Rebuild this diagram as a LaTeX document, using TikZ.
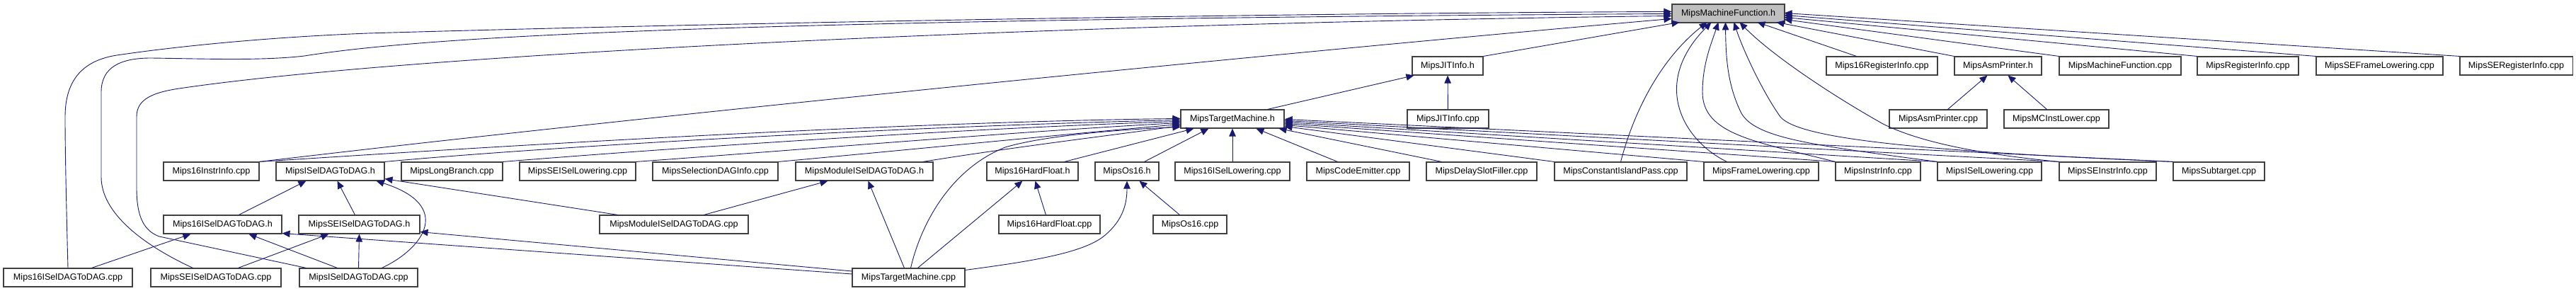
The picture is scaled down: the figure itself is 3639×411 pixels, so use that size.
\documentclass[tikz,border=0pt]{standalone}
\usepackage{fontspec}
\setmainfont{Liberation Sans}
\usetikzlibrary{arrows.meta,calc}
\definecolor{edgeblue}{HTML}{191970}
\definecolor{boxline}{HTML}{404040}
\definecolor{focusfill}{HTML}{BFBFBF}
\tikzset{
  box/.style={draw=boxline, line width=1.1pt, fill=white, minimum height=26pt, inner sep=0pt,
    font=\fontsize{12.6}{14}\selectfont},
  focus/.style={box, fill=focusfill},
  dep/.style={draw=edgeblue, line width=0.9pt, -{Triangle[length=11pt,width=9.5pt]}, fill=none}
}
\begin{document}
\begin{tikzpicture}[x=1pt,y=-1pt]
\useasboundingbox[fill=white] (0,0) rectangle (3639,411);
% row 0
\node[focus, minimum width=159pt] (mmf) at (2441.5,19) {MipsMachineFunction.h};
% row 1
\node[box, minimum width=100pt] (mjith) at (2045,93) {MipsJITInfo.h};
\node[box, minimum width=157pt] (m16ri) at (2658.5,93) {Mips16RegisterInfo.cpp};
\node[box, minimum width=123pt] (masmh) at (2822.5,93) {MipsAsmPrinter.h};
\node[box, minimum width=172pt] (mmfcpp) at (2995,93) {MipsMachineFunction.cpp};
\node[box, minimum width=143pt] (mri) at (3175.5,93) {MipsRegisterInfo.cpp};
\node[box, minimum width=179pt] (msefl) at (3361.5,93) {MipsSEFrameLowering.cpp};
\node[box, minimum width=159pt] (mseri) at (3554.5,93) {MipsSERegisterInfo.cpp};
% row 2
\node[box, minimum width=146pt] (mtmh) at (1741,168) {MipsTargetMachine.h};
\node[box, minimum width=115pt] (mjitcpp) at (2045.5,168) {MipsJITInfo.cpp};
\node[box, minimum width=138pt] (masmcpp) at (2738,168) {MipsAsmPrinter.cpp};
\node[box, minimum width=148pt] (mmcil) at (2905,168) {MipsMCInstLower.cpp};
% row 3
\node[box, minimum width=135pt] (m16ii) at (298.5,242) {Mips16InstrInfo.cpp};
\node[box, minimum width=153pt] (misdh) at (466.5,242) {MipsISelDAGToDAG.h};
\node[box, minimum width=143pt] (mlb) at (638.5,242) {MipsLongBranch.cpp};
\node[box, minimum width=164pt] (mseisl) at (816,242) {MipsSEISelLowering.cpp};
\node[box, minimum width=177pt] (msdi) at (1010.5,242) {MipsSelectionDAGInfo.cpp};
\node[box, minimum width=194pt] (mmodh) at (1221,242) {MipsModuleISelDAGToDAG.h};
\node[box, minimum width=129pt] (m16hfh) at (1458.5,242) {Mips16HardFloat.h};
\node[box, minimum width=90pt] (mos16h) at (1592,242) {MipsOs16.h};
\node[box, minimum width=162pt] (m16isl) at (1741,242) {Mips16ISelLowering.cpp};
\node[box, minimum width=145pt] (mce) at (1918.5,242) {MipsCodeEmitter.cpp};
\node[box, minimum width=156pt] (mdsf) at (2093,242) {MipsDelaySlotFiller.cpp};
\node[box, minimum width=187pt] (mcip) at (2289.5,242) {MipsConstantIslandPass.cpp};
\node[box, minimum width=162pt] (mfl) at (2488,242) {MipsFrameLowering.cpp};
\node[box, minimum width=120pt] (mii) at (2653,242) {MipsInstrInfo.cpp};
\node[box, minimum width=147pt] (misl) at (2810.5,242) {MipsISelLowering.cpp};
\node[box, minimum width=137pt] (msei) at (2977.5,242) {MipsSEInstrInfo.cpp};
\node[box, minimum width=129pt] (msub) at (3134.5,242) {MipsSubtarget.cpp};
% row 4
\node[box, minimum width=167pt] (m16isdh) at (314.5,317) {Mips16ISelDAGToDAG.h};
\node[box, minimum width=171pt] (msesdh) at (507.5,317) {MipsSEISelDAGToDAG.h};
\node[box, minimum width=210pt] (mmodcpp) at (952,317) {MipsModuleISelDAGToDAG.cpp};
\node[box, minimum width=143pt] (m16hfcpp) at (1482.5,317) {Mips16HardFloat.cpp};
\node[box, minimum width=104pt] (mos16cpp) at (1681,317) {MipsOs16.cpp};
% row 5
\node[box, minimum width=182pt] (m16isdcpp) at (96,392) {Mips16ISelDAGToDAG.cpp};
\node[box, minimum width=184pt] (msesdcpp) at (305,392) {MipsSEISelDAGToDAG.cpp};
\node[box, minimum width=167pt] (misdcpp) at (506.5,392) {MipsISelDAGToDAG.cpp};
\node[box, minimum width=159pt] (mtmcpp) at (1283.5,392) {MipsTargetMachine.cpp};

% ---- edges into MipsMachineFunction.h
\draw[dep] (m16isdcpp.north) .. controls (94,300) and (92,220) .. (92,165)
  .. controls (92,110) and (120,85) .. (165,78)
  .. controls (260,64) and (390,52) .. (520,47)
  .. controls (1100,30) and (1900,18) .. ($(mmf.north west)+(0,11)$);
\draw[dep] ($(msesdcpp.north west)+(60,0)$) .. controls (200,345) and (143,300) .. (143,250)
  -- (143,130) .. controls (143,95) and (170,82) .. (213,82)
  .. controls (290,83) and (370,86) .. (430,79)
  .. controls (600,52) and (1000,28) .. ($(mmf.north west)+(0,14)$);
\draw[dep] ($(misdcpp.north west)+(10,0)$) -- (225,334) .. controls (200,325) and (193,300) .. (193,265)
  -- (193,165) .. controls (193,140) and (215,130) .. (260,124)
  .. controls (600,75) and (1500,33) .. ($(mmf.north west)+(0,17)$);
\draw[dep] (m16ii.north east) .. controls (900,165) and (1800,75) .. ($(mmf.north west)+(0,21)$);
\draw[dep] (mjith.north east) -- ($(mmf.north west)+(11,26)$);
\draw[dep] (mcip.north) .. controls (2310,150) and (2350,80) .. ($(mmf.north west)+(50,26)$);
\draw[dep] ($(mfl.north west)+(33,0)$) .. controls (2380,200) and (2330,120) .. ($(mmf.north west)+(56,26)$);
\draw[dep] (mii.north west) .. controls (2480,200) and (2405,190) .. (2405,130)
  .. controls (2405,90) and (2418,60) .. ($(mmf.north west)+(66,26)$);
\draw[dep] (misl.north west) .. controls (2560,205) and (2480,195) .. (2460,160)
  .. controls (2440,120) and (2438,80) .. ($(mmf.north west)+(76,26)$);
\draw[dep] (msub.north west) .. controls (2700,213) and (2540,195) .. (2515,165)
  .. controls (2490,130) and (2462,70) .. ($(mmf.north west)+(88,26)$);
\draw[dep] (msei.north west) .. controls (2820,220) and (2720,205) .. (2660,175)
  .. controls (2580,130) and (2500,75) .. ($(mmf.north west)+(96,26)$);
\draw[dep] ($(m16ri.north west)+(43,0)$) -- ($(mmf.north west)+(121,26)$);
\draw[dep] (masmh.north west) -- ($(mmf.north west)+(148,26)$);
\draw[dep] (mmfcpp.north west) -- ($(mmf.north west)+(159,22)$);
\draw[dep] (mri.north west) -- ($(mmf.north west)+(159,19)$);
\draw[dep] (msefl.north west) -- ($(mmf.north west)+(159,16)$);
\draw[dep] (mseri.north west) -- ($(mmf.north west)+(159,13)$);

% ---- edges into MipsTargetMachine.h
\draw[dep] (m16ii.north east) .. controls (800,200) and (1300,172) .. ($(mtmh.north west)+(0,13)$);
\draw[dep] (misdh.north east) .. controls (800,205) and (1300,178) .. ($(mtmh.north west)+(0,15)$);
\draw[dep] (mlb.north east) .. controls (1000,205) and (1400,180) .. ($(mtmh.north west)+(0,17)$);
\draw[dep] (mseisl.north east) .. controls (1150,210) and (1450,185) .. ($(mtmh.north west)+(0,19)$);
\draw[dep] (msdi.north east) .. controls (1300,210) and (1500,190) .. ($(mtmh.north west)+(0,21)$);
\draw[dep] ($(mmodh.north east)+(-15,0)$) .. controls (1450,205) and (1580,190) .. ($(mtmh.north west)+(0,23)$);
\draw[dep] ($(mtmcpp.north)+(3,0)$) .. controls (1300,320) and (1340,240) .. (1420,208)
  .. controls (1480,190) and (1600,182) .. ($(mtmh.north west)+(0,25)$);
\draw[dep] ($(m16hfh.north east)+(-20,0)$) -- ($(mtmh.south west)+(19,0)$);
\draw[dep] ($(mos16h.north west)+(70,0)$) -- ($(mtmh.south west)+(40,0)$);
\draw[dep] (m16isl) -- (mtmh);
\draw[dep] ($(mce.north west)+(44,0)$) -- ($(mtmh.south west)+(107,0)$);
\draw[dep] ($(mdsf.north west)+(22,0)$) -- ($(mtmh.south east)+(-8,0)$);
\draw[dep] (mcip.north west) -- ($(mtmh.north east)+(0,24)$);
\draw[dep] (mfl.north west) -- ($(mtmh.north east)+(0,22)$);
\draw[dep] (mii.north west) -- ($(mtmh.north east)+(0,20)$);
\draw[dep] (misl.north west) -- ($(mtmh.north east)+(0,18)$);
\draw[dep] (msei.north west) -- ($(mtmh.north east)+(0,16)$);
\draw[dep] (msub.north west) -- ($(mtmh.north east)+(0,14)$);

% ---- other edges
\draw[dep] ($(mtmh.north east)+(-24,0)$) -- ($(mjith.south west)+(3,0)$);
\draw[dep] (mjitcpp) -- (mjith);
\draw[dep] ($(masmcpp.north west)+(83,0)$) -- ($(masmh.south west)+(47,0)$);
\draw[dep] ($(mmcil.north west)+(61,0)$) -- ($(masmh.south west)+(76,0)$);
\draw[dep] ($(m16hfcpp.north west)+(67,0)$) -- ($(m16hfh.south west)+(69,0)$);
\draw[dep] ($(mtmcpp.north west)+(93,0)$) -- ($(m16hfh.south west)+(51,0)$);
\draw[dep] ($(mtmcpp.north west)+(74,0)$) -- ($(mmodh.south west)+(103,0)$);
\draw[dep] ($(mmodcpp.north west)+(148,0)$) -- ($(mmodh.south west)+(46,0)$);
\draw[dep] ($(mmodcpp.north west)+(26,0)$) -- ($(misdh.south east)+(0,-3)$);
\draw[dep] ($(misdcpp.north west)+(117,0)$) .. controls (600,350) and (640,290) .. ($(misdh.south east)+(-12,0)$);
\draw[dep] ($(mtmcpp.north east)+(0,3)$) .. controls (1450,370) and (1530,358) .. (1560,333)
  .. controls (1588,310) and (1592,285) .. (mos16h.south);
\draw[dep] ($(mos16cpp.north west)+(38,0)$) -- ($(mos16h.south west)+(63,0)$);
\draw[dep] ($(mtmcpp.west)+(0,-5)$) -- ($(m16isdh.south east)+(0,-1)$);
\draw[dep] ($(mtmcpp.west)+(0,-9)$) -- ($(msesdh.south east)+(0,-3)$);
\draw[dep] ($(m16isdcpp.north west)+(125,0)$) -- ($(m16isdh.south west)+(39,0)$);
\draw[dep] ($(msesdcpp.north west)+(124,0)$) -- ($(msesdh.south west)+(43,0)$);
\draw[dep] ($(misdcpp.north west)+(54,0)$) -- ($(m16isdh.south west)+(121,0)$);
\draw[dep] (misdcpp.north) -- (msesdh.south);
\draw[dep] ($(m16isdh.north west)+(107,0)$) -- ($(misdh.south west)+(43,0)$);
\draw[dep] ($(msesdh.north west)+(80,0)$) -- ($(misdh.south west)+(87,0)$);
\end{tikzpicture}
\end{document}
